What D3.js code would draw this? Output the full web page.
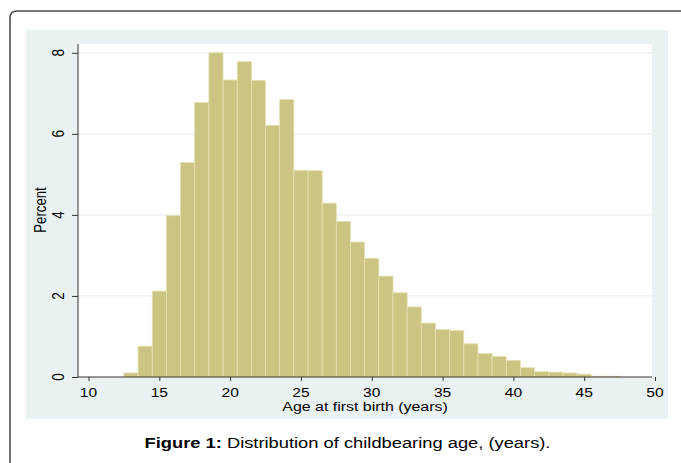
<!DOCTYPE html>
<html>
<head>
<meta charset="utf-8">
<script src="https://cdn.jsdelivr.net/npm/d3@7"></script>
<style>
  html, body { margin: 0; padding: 0; background: #ffffff; }
  svg { display: block; }
  text { font-family: "Liberation Sans", Arial, sans-serif; fill: #000; }
</style>
</head>
<body>
<svg id="chart" width="681" height="463"></svg>
<script>
// ---- data ----
const ages = [13,14,15,16,17,18,19,20,21,22,23,24,25,26,27,28,29,30,31,32,33,34,35,36,37,38,39,40,41,42,43,44,45,46,47];
const percents = [0.10,0.76,2.12,3.98,5.29,6.77,8.00,7.33,7.78,7.32,6.21,6.85,5.10,5.09,4.29,3.84,3.33,2.93,2.49,2.08,1.73,1.33,1.17,1.15,0.82,0.58,0.51,0.41,0.23,0.13,0.12,0.10,0.07,0.02,0.02];
const xTicks = [10,15,20,25,30,35,40,45,50];
const yTicks = [0,2,4,6,8];
const xTitle = "Age at first birth (years)";
const yTitle = "Percent";
const captionBold = "Figure 1:";
const captionRest = " Distribution of childbearing age, (years).";

const svg = d3.select("#chart");
const SX = 1.18; // horizontal stretch of text seen in reference

// frame
svg.append("path")
  .attr("d", "M10,470 L10,18 Q10,11 17,11 L690,11")
  .attr("fill", "none").attr("stroke", "#4d4d4d").attr("stroke-width", 1.6);

// panel background
svg.append("rect").attr("x", 26).attr("y", 30).attr("width", 642).attr("height", 389)
  .attr("fill", "#eaf1f3");

// plot region
const plot = {left: 78, right: 652, top: 44, bottom: 377};
svg.append("rect").attr("x", plot.left).attr("y", plot.top)
  .attr("width", plot.right - plot.left).attr("height", plot.bottom - plot.top)
  .attr("fill", "#ffffff");

const x = d3.scaleLinear().domain([10, 50]).range([88.5, 655]);
const y = d3.scaleLinear().domain([0, 8]).range([377, 52.8]);

// gridlines
svg.append("g").selectAll("line").data(yTicks.filter(d => d > 0)).join("line")
  .attr("x1", plot.left).attr("x2", plot.right)
  .attr("y1", d => y(d)).attr("y2", d => y(d))
  .attr("stroke", "#eaf1f3").attr("stroke-width", 1.2);

// bars
svg.append("g").selectAll("rect").data(ages.map((a, i) => ({a, v: percents[i]}))).join("rect")
  .attr("x", d => x(d.a - 0.5))
  .attr("width", d => x(d.a + 0.5) - x(d.a - 0.5))
  .attr("y", d => y(d.v))
  .attr("height", d => y(0) - y(d.v))
  .attr("fill", "#cbc482")
  .attr("stroke", "#e6e1b3").attr("stroke-width", 0.8);

// x axis
const xAxis = d3.axisBottom(x).tickValues(xTicks).tickSize(4).tickSizeOuter(0).tickFormat(d3.format("d"));
const gx = svg.append("g").attr("transform", `translate(0,${plot.bottom})`).call(xAxis);
gx.select(".domain").remove();
gx.selectAll(".tick line").attr("stroke", "#333");
gx.selectAll(".tick text").remove();
svg.append("line").attr("x1", plot.left).attr("x2", plot.right)
  .attr("y1", plot.bottom).attr("y2", plot.bottom).attr("stroke", "#333").attr("stroke-width", 1);
svg.append("g").selectAll("text").data(xTicks).join("text")
  .attr("transform", d => `translate(${x(d)},396.5) scale(${SX},1)`)
  .attr("text-anchor", "middle").attr("font-size", 13.2).text(d => d);

// y axis
const yAxis = d3.axisLeft(y).tickValues(yTicks).tickSize(6).tickSizeOuter(0);
const gy = svg.append("g").attr("transform", `translate(${plot.left},0)`).call(yAxis);
gy.select(".domain").remove();
gy.selectAll(".tick line").attr("stroke", "#333");
gy.selectAll(".tick text").remove();
svg.append("line").attr("x1", plot.left).attr("x2", plot.left)
  .attr("y1", plot.top).attr("y2", plot.bottom).attr("stroke", "#333").attr("stroke-width", 1);
svg.append("g").selectAll("text").data(yTicks).join("text")
  .attr("transform", d => `translate(63.5,${y(d)}) scale(${SX},1) rotate(-90)`)
  .attr("text-anchor", "middle").attr("font-size", 13.5).text(d => d);

// axis titles
svg.append("text").attr("transform", `translate(365,411) scale(${SX},1)`)
  .attr("text-anchor", "middle").attr("font-size", 13.5).text(xTitle);
svg.append("text").attr("transform", `translate(45.5,210) scale(${SX},1) rotate(-90)`)
  .attr("text-anchor", "middle").attr("font-size", 13.2).text(yTitle);

// caption
const cap = svg.append("text").attr("transform", `translate(347.5,447.5) scale(1.19,1)`)
  .attr("text-anchor", "middle").attr("font-size", 15.4);
cap.append("tspan").attr("font-weight", "bold").text(captionBold);
cap.append("tspan").text(captionRest);
</script>
</body>
</html>
